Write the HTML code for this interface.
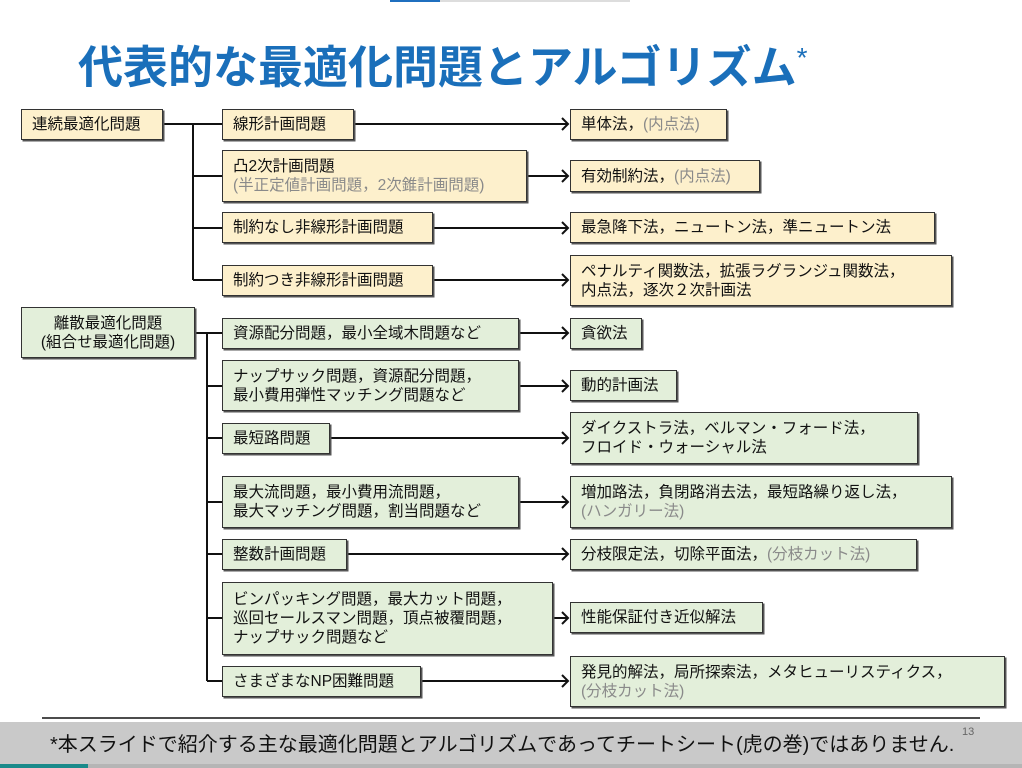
<!DOCTYPE html>
<html><head><meta charset="utf-8"><style>
body{margin:0;width:1022px;height:768px;position:relative;background:#fff;overflow:hidden;font-family:"Liberation Sans","Noto Sans CJK JP",sans-serif;}
.b{position:absolute;box-sizing:border-box;border:1.5px solid #333;box-shadow:1.5px 1.5px 0 #555;font-size:15.5px;line-height:19px;color:#111;padding:0 10px;display:flex;flex-direction:column;justify-content:center;white-space:nowrap;}
.y{background:#fdf0cc}.g{background:#e3efda}
.gr{color:#8a8a8a}
svg{position:absolute;left:0;top:0}
</style></head><body>
<div style="position:absolute;left:390px;top:0;width:50px;height:2px;background:#1f6fbf"></div>
<div style="position:absolute;left:440px;top:0;width:190px;height:2px;background:#ddd"></div>
<div style="position:absolute;left:78px;top:38px;font-size:45px;line-height:60px;font-weight:bold;color:#1a6fba;white-space:nowrap">代表的な最適化問題とアルゴリズム<span style="font-size:28px;vertical-align:top;font-weight:normal;line-height:40px">*</span></div>
<svg width="1022" height="768" stroke="#111" stroke-width="2" fill="none">
<line x1="163" y1="124" x2="222" y2="124"/><line x1="193" y1="124" x2="193" y2="280"/>
<line x1="193" y1="176" x2="222" y2="176"/><line x1="193" y1="228" x2="222" y2="228"/><line x1="193" y1="280" x2="222" y2="280"/>
<line x1="195" y1="333" x2="222" y2="333"/><line x1="207" y1="333" x2="207" y2="681"/>
<line x1="207" y1="386" x2="222" y2="386"/><line x1="207" y1="438" x2="222" y2="438"/><line x1="207" y1="502" x2="222" y2="502"/><line x1="207" y1="554" x2="222" y2="554"/><line x1="207" y1="618" x2="222" y2="618"/><line x1="207" y1="681" x2="222" y2="681"/>
<g>
<line x1="354" y1="124" x2="568" y2="124"/><polyline points="562,118 568,124 562,130"/>
<line x1="527" y1="176" x2="568" y2="176"/><polyline points="562,170 568,176 562,182"/>
<line x1="433" y1="228" x2="568" y2="228"/><polyline points="562,222 568,228 562,234"/>
<line x1="433" y1="280" x2="568" y2="280"/><polyline points="562,274 568,280 562,286"/>
<line x1="519" y1="333" x2="568" y2="333"/><polyline points="562,327 568,333 562,339"/>
<line x1="519" y1="386" x2="568" y2="386"/><polyline points="562,380 568,386 562,392"/>
<line x1="330" y1="438" x2="568" y2="438"/><polyline points="562,432 568,438 562,444"/>
<line x1="519" y1="502" x2="568" y2="502"/><polyline points="562,496 568,502 562,508"/>
<line x1="347" y1="554" x2="568" y2="554"/><polyline points="562,548 568,554 562,560"/>
<line x1="553" y1="618" x2="568" y2="618"/><polyline points="562,612 568,618 562,624"/>
<line x1="421" y1="681" x2="568" y2="681"/><polyline points="562,675 568,681 562,687"/>
</g>
<line x1="42" y1="718" x2="980" y2="718" stroke-width="1.5"/>
</svg>
<div class="b y" style="left:21px;top:109px;width:142px;height:31px">連続最適化問題</div>
<div class="b y" style="left:222px;top:109px;width:132px;height:31px">線形計画問題</div>
<div class="b y" style="left:570px;top:109px;width:157px;height:31px"><span>単体法，<span class="gr">(内点法)</span></span></div>
<div class="b y" style="left:222px;top:150px;width:305px;height:52px"><span>凸2次計画問題</span><span class="gr">(半正定値計画問題，2次錐計画問題)</span></div>
<div class="b y" style="left:570px;top:160px;width:190px;height:32px"><span>有効制約法，<span class="gr">(内点法)</span></span></div>
<div class="b y" style="left:222px;top:212px;width:211px;height:31px">制約なし非線形計画問題</div>
<div class="b y" style="left:570px;top:212px;width:365px;height:31px">最急降下法，ニュートン法，準ニュートン法</div>
<div class="b y" style="left:222px;top:265px;width:211px;height:31px">制約つき非線形計画問題</div>
<div class="b y" style="left:570px;top:255px;width:382px;height:51px"><span>ペナルティ関数法，拡張ラグランジュ関数法，</span><span>内点法，逐次２次計画法</span></div>
<div class="b g" style="left:21px;top:307px;width:174px;height:51px;align-items:center"><span>離散最適化問題</span><span>(組合せ最適化問題)</span></div>
<div class="b g" style="left:222px;top:318px;width:297px;height:31px">資源配分問題，最小全域木問題など</div>
<div class="b g" style="left:570px;top:318px;width:72px;height:31px">貪欲法</div>
<div class="b g" style="left:222px;top:360px;width:297px;height:51px"><span>ナップサック問題，資源配分問題，</span><span>最小費用弾性マッチング問題など</span></div>
<div class="b g" style="left:570px;top:370px;width:107px;height:31px">動的計画法</div>
<div class="b g" style="left:222px;top:423px;width:108px;height:31px">最短路問題</div>
<div class="b g" style="left:570px;top:412px;width:348px;height:52px"><span>ダイクストラ法，ベルマン・フォード法，</span><span>フロイド・ウォーシャル法</span></div>
<div class="b g" style="left:222px;top:476px;width:297px;height:52px"><span>最大流問題，最小費用流問題，</span><span>最大マッチング問題，割当問題など</span></div>
<div class="b g" style="left:570px;top:476px;width:382px;height:52px"><span>増加路法，負閉路消去法，最短路繰り返し法，</span><span class="gr">(ハンガリー法)</span></div>
<div class="b g" style="left:222px;top:539px;width:125px;height:31px">整数計画問題</div>
<div class="b g" style="left:570px;top:539px;width:347px;height:31px"><span>分枝限定法，切除平面法，<span class="gr">(分枝カット法)</span></span></div>
<div class="b g" style="left:222px;top:582px;width:331px;height:73px"><span>ビンパッキング問題，最大カット問題，</span><span>巡回セールスマン問題，頂点被覆問題，</span><span>ナップサック問題など</span></div>
<div class="b g" style="left:570px;top:602px;width:193px;height:31px">性能保証付き近似解法</div>
<div class="b g" style="left:222px;top:666px;width:199px;height:31px">さまざまなNP困難問題</div>
<div class="b g" style="left:570px;top:656px;width:435px;height:51px"><span>発見的解法，局所探索法，メタヒューリスティクス，</span><span class="gr">(分枝カット法)</span></div>
<div style="position:absolute;left:0;top:722px;width:1022px;height:42px;background:#c9c9c9"></div>
<div style="position:absolute;left:0;top:764px;width:88px;height:4px;background:#1a8a8a"></div>
<div style="position:absolute;left:88px;top:764px;width:934px;height:4px;background:#b5b5b5"></div>
<div style="position:absolute;left:50px;top:728px;font-size:20px;color:#111;white-space:nowrap">*本スライドで紹介する主な最適化問題とアルゴリズムであってチートシート(虎の巻)ではありません.</div>
<div style="position:absolute;left:962px;top:726px;font-size:11px;color:#666">13</div>
</body></html>
